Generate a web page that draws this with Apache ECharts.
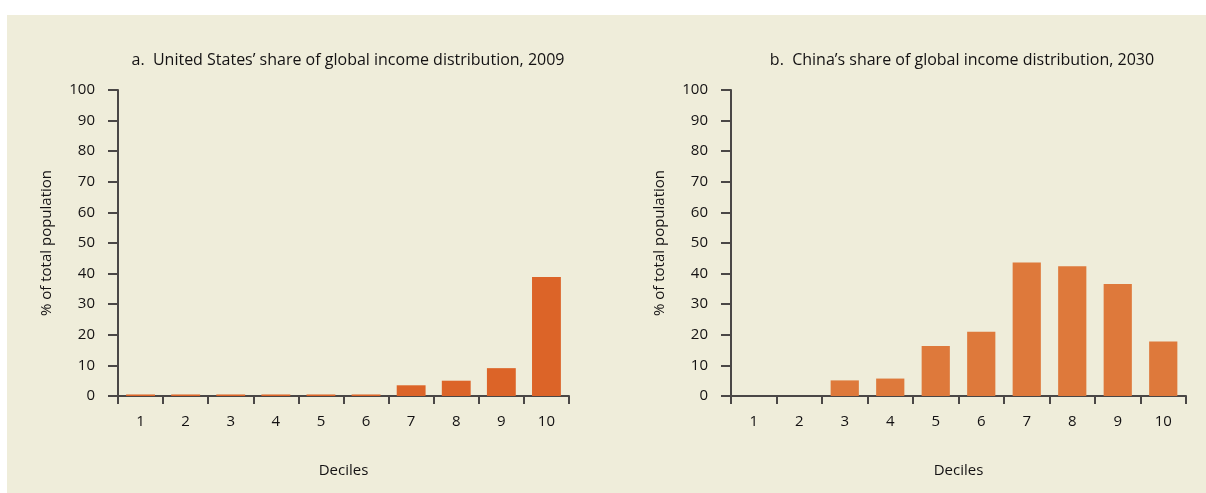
<!DOCTYPE html>
<html>
<head>
<meta charset="utf-8">
<script src="https://cdn.jsdelivr.net/npm/echarts@6/dist/echarts.min.js"></script>
<style>
  html, body { margin: 0; padding: 0; background: #ffffff; }
  #main { width: 1206px; height: 493px; }
</style>
</head>
<body>
<div id="main"></div>
<script>
var deciles = ['1', '2', '3', '4', '5', '6', '7', '8', '9', '10'];
var usShare2009 = [0.5, 0.5, 0.5, 0.5, 0.5, 0.5, 3.5, 5, 9.1, 38.9];
var chinaShare2030 = [0, 0, 5.1, 5.7, 16.3, 21, 43.6, 42.4, 36.6, 17.8];
var titleA = 'a.  United States\u2019 share of global income distribution, 2009';
var titleB = 'b.  China\u2019s share of global income distribution, 2030';

var chart = echarts.init(document.getElementById('main'));

var font = '"Open Sans", "Noto Sans", sans-serif';
var ink = '#141213';
var axisCol = '#4a4746';

function xAxisFor(gridIndex) {
  return {
    type: 'category',
    gridIndex: gridIndex,
    data: deciles,
    name: 'Deciles',
    nameLocation: 'middle',
    nameGap: 67,
    nameTextStyle: { color: ink, fontFamily: font, fontSize: 15 },
    axisLine: { lineStyle: { color: axisCol, width: 2 } },
    axisTick: { show: true, length: 8, lineStyle: { color: axisCol, width: 2 } },
    axisLabel: { color: ink, fontFamily: font, fontSize: 15, margin: 18 },
    splitLine: { show: false }
  };
}

function yAxisFor(gridIndex) {
  return {
    type: 'value',
    gridIndex: gridIndex,
    min: 0,
    max: 100,
    interval: 10,
    name: '% of total population',
    nameLocation: 'middle',
    nameGap: 64,
    nameTextStyle: { color: ink, fontFamily: font, fontSize: 15 },
    axisLine: { show: true, lineStyle: { color: axisCol, width: 2 } },
    axisTick: { show: true, length: 10, lineStyle: { color: axisCol, width: 2 } },
    axisLabel: { color: ink, fontFamily: font, fontSize: 15, margin: 23 },
    splitLine: { show: false }
  };
}

var option = {
  backgroundColor: 'transparent',
  animation: false,
  graphic: [{
    type: 'rect',
    z: -10,
    shape: { x: 7, y: 15, width: 1199, height: 478 },
    style: { fill: '#efedda' }
  }],
  title: [{
    text: titleA,
    left: 343,
    top: 47,
    textAlign: 'center',
    textStyle: { color: ink, fontFamily: font, fontSize: 16, fontWeight: 'normal' }
  }, {
    text: titleB,
    left: 957,
    top: 47,
    textAlign: 'center',
    textStyle: { color: ink, fontFamily: font, fontSize: 16, fontWeight: 'normal' }
  }],
  grid: [
    { left: 118, top: 90, width: 451, height: 306 },
    { left: 731, top: 90, width: 455, height: 306 }
  ],
  xAxis: [xAxisFor(0), xAxisFor(1)],
  yAxis: [yAxisFor(0), yAxisFor(1)],
  series: [{
    type: 'bar',
    xAxisIndex: 0,
    yAxisIndex: 0,
    data: usShare2009,
    barWidth: '64%',
    itemStyle: { color: '#dc6428' }
  }, {
    type: 'bar',
    xAxisIndex: 1,
    yAxisIndex: 1,
    data: chinaShare2030,
    barWidth: '62%',
    itemStyle: { color: '#de793b' }
  }]
};

chart.setOption(option);
</script>
</body>
</html>
